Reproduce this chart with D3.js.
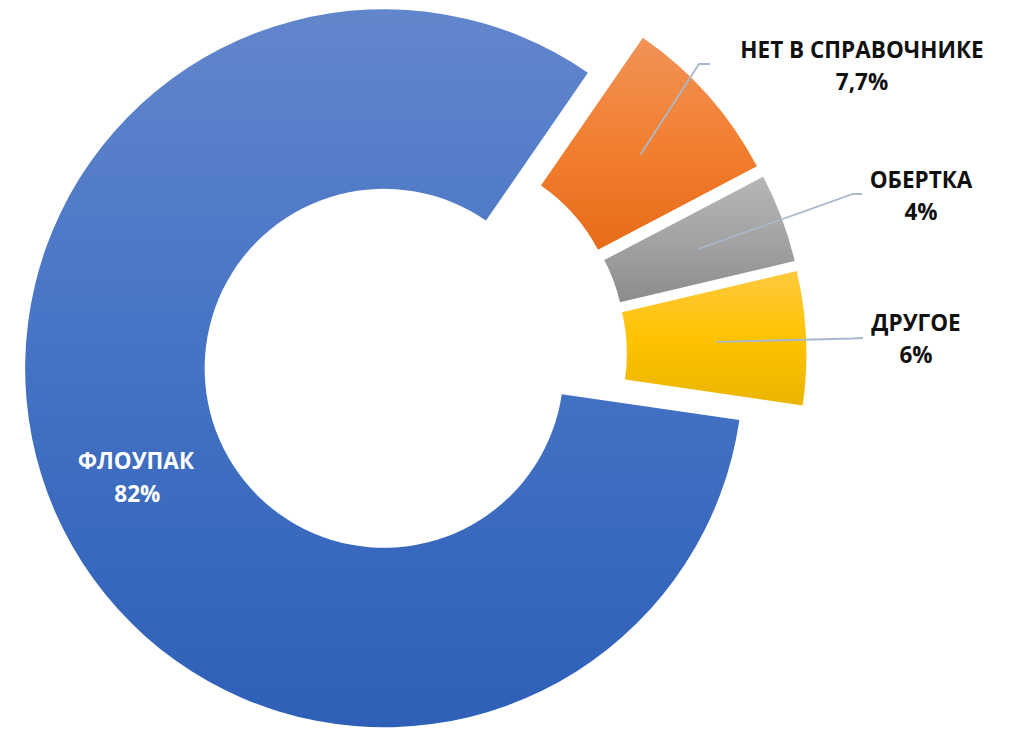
<!DOCTYPE html>
<html>
<head>
<meta charset="utf-8">
<script src="https://cdn.jsdelivr.net/npm/d3@7"></script>
<style>
  html, body { margin: 0; padding: 0; background: #fff; }
  svg { display: block; }
</style>
</head>
<body>
<svg id="chart" width="1015" height="729"></svg>
<script>
// ---- data ----
const categories = ["ФЛОУПАК", "НЕТ В СПРАВОЧНИКЕ", "ОБЕРТКА", "ДРУГОЕ"];
const values = [82.3, 7.7, 4.0, 6.0];
const valueLabels = ["82%", "7,7%", "4%", "6%"];

// ---- styling ----
const gradients = [
  ["#6286CC", "#4472C4", "#2E60B8"],
  ["#F19359", "#F27F30", "#E66C1A"],
  ["#B6B6B6", "#A3A3A3", "#8C8C8C"],
  ["#FFC93F", "#FFC300", "#EAB500"]
];

const svg = d3.select("#chart");
const cx = 414.4, cy = 355.1;
const outerR = 359, innerR = 179.5;
const explode = 33;
const startDeg = 98.3;

const pie = d3.pie()
  .sort(null)
  .value(d => d)
  .startAngle(startDeg * Math.PI / 180)
  .endAngle(startDeg * Math.PI / 180 + 2 * Math.PI);

const arc = d3.arc().innerRadius(innerR).outerRadius(outerR);
const arcs = pie(values);

const defs = svg.append("defs");
gradients.forEach((g, i) => {
  const lg = defs.append("linearGradient")
    .attr("id", "grad" + i)
    .attr("x1", 0).attr("y1", 0).attr("x2", 0).attr("y2", 1);
  lg.append("stop").attr("offset", "0%").attr("stop-color", g[0]);
  lg.append("stop").attr("offset", "50%").attr("stop-color", g[1]);
  lg.append("stop").attr("offset", "100%").attr("stop-color", g[2]);
});

function offset(d) {
  const mid = (d.startAngle + d.endAngle) / 2;
  return [explode * Math.sin(mid), -explode * Math.cos(mid)];
}

const g = svg.append("g").attr("transform", `translate(${cx},${cy})`);

g.selectAll("path.slice")
  .data(arcs)
  .enter().append("path")
  .attr("class", "slice")
  .attr("d", arc)
  .attr("fill", (d, i) => `url(#grad${i})`)
  .attr("transform", d => { const o = offset(d); return `translate(${o[0]},${o[1]})`; });

// leader lines (for outer labels)
const labelAnchors = [
  null,
  { elbow: [699, 64], end: [710, 64], text: [862, 58] },
  { elbow: [853, 194], end: [862, 194], text: [921, 188] },
  { elbow: [853, 338.5], end: [863, 338], text: [916, 331] }
];

const fontFamily = "'Open Sans', Lato, sans-serif";
const fontSize = 22.5;
const lineGap = 32;

arcs.forEach((d, i) => {
  const o = offset(d);
  const c = arc.centroid(d);
  const px = cx + o[0] + c[0], py = cy + o[1] + c[1];
  const a = labelAnchors[i];
  if (a) {
    svg.append("polyline")
      .attr("points", [[px, py], a.elbow, a.end].map(p => p.join(",")).join(" "))
      .attr("fill", "none")
      .attr("stroke", "#A9B8CC")
      .attr("stroke-width", 1.8);
    const t = svg.append("text")
      .attr("text-anchor", "middle")
      .attr("font-family", fontFamily)
      .attr("font-weight", "bold")
      .attr("font-size", fontSize)
      .attr("fill", "#111111");
    t.append("tspan").attr("x", a.text[0]).attr("y", a.text[1]).text(categories[i]);
    t.append("tspan").attr("x", a.text[0]).attr("y", a.text[1] + lineGap).text(valueLabels[i]);
  } else {
    const t = svg.append("text")
      .attr("text-anchor", "middle")
      .attr("font-family", fontFamily)
      .attr("font-weight", "bold")
      .attr("font-size", fontSize)
      .attr("fill", "#FFFFFF");
    t.append("tspan").attr("x", px - 1.5).attr("y", py - 6.5).text(categories[i]);
    t.append("tspan").attr("x", px).attr("y", py - 6.5 + 33).text(valueLabels[i]);
  }
});
</script>
</body>
</html>
